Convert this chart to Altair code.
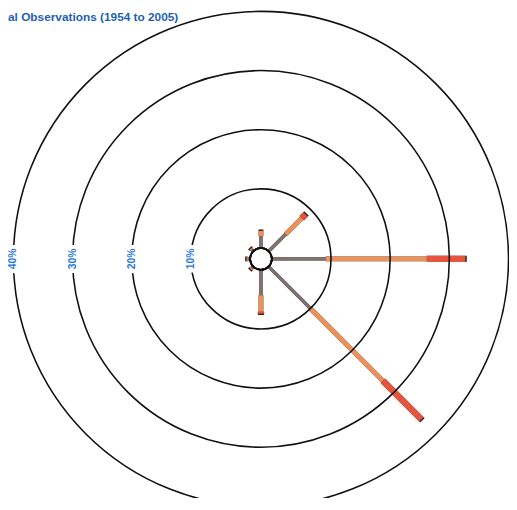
import altair as alt
import pandas as pd

# ---- data ----
directions = ["N", "NE", "E", "SE", "S", "SW", "W", "NW"]
bearings = [0, 45, 90, 135, 180, 225, 270, 315]
light = [2.0, 4.1, 9.1, 10.0, 4.3, 0.4, 0.4, 0.4]       # thin segment (%)
moderate = [0.9, 3.8, 17.1, 17.3, 2.8, 0.2, 0.2, 0.2]   # orange segment (%)
strong = [0.0, 0.9, 6.5, 9.2, 0.3, 0.0, 0.0, 0.0]       # red segment (%)
classes = ["light", "moderate", "strong"]
ring_pcts = [10, 20, 30, 40]
ring_labels = ["10%", "20%", "30%", "40%"]
calm_pct = [0]
title_text = ["al Observations (1954 to 2005)"]

# ---- layout constants ----
CALM_OFF = 11 / 6.0        # calm circle radius expressed in % units
RMAX = 40 + CALM_OFF
CX, CY = 256.5, 251.0      # centre in svg pixels
RPIX = 251.0
W, H = 508, 490

rows = []
for d, b, a, m, s in zip(directions, bearings, light, moderate, strong):
    cum = 0.0
    for cls, v in zip(classes, [a, m, s]):
        if v > 0:
            rows.append({"dir": d, "bearing": b, "cls": cls, "start": cum, "end": cum + v})
            cum += v
bars = pd.DataFrame(rows)
rings = pd.DataFrame({"pct": ring_pcts, "label": ring_labels})
calm = pd.DataFrame({"pct": calm_pct})
title_df = pd.DataFrame({"t": title_text})

xs = alt.Scale(domain=[-RMAX, RMAX], range=[CX - RPIX, CX + RPIX])
ys = alt.Scale(domain=[-RMAX, RMAX], range=[CY + RPIX, CY - RPIX])
rs = alt.Scale(type="linear", domain=[0, 40], range=[11, 251])

geo = alt.Chart(bars).transform_calculate(
    a="datum.bearing * PI / 180",
).transform_calculate(
    r0=f"datum.start + {CALM_OFF}",
    r1=f"datum.end + {CALM_OFF}",
    r1o=f"datum.end + {CALM_OFF} + 0.25",
).transform_calculate(
    x0="datum.r0 * sin(datum.a)", y0="datum.r0 * cos(datum.a)",
    x1="datum.r1 * sin(datum.a)", y1="datum.r1 * cos(datum.a)",
    x1o="datum.r1o * sin(datum.a)", y1o="datum.r1o * cos(datum.a)",
)

outline = geo.mark_rule(strokeCap="butt", color="#3e2620").encode(
    x=alt.X("x0:Q", scale=xs, axis=None),
    y=alt.Y("y0:Q", scale=ys, axis=None),
    x2="x1o:Q", y2="y1o:Q",
    strokeWidth=alt.StrokeWidth("cls:N", scale=alt.Scale(domain=classes, range=[3.4, 6.4, 8.6]), legend=None),
)
fill = geo.mark_rule(strokeCap="butt").encode(
    x=alt.X("x0:Q", scale=xs, axis=None),
    y=alt.Y("y0:Q", scale=ys, axis=None),
    x2="x1:Q", y2="y1:Q",
    strokeWidth=alt.StrokeWidth("cls:N", scale=alt.Scale(domain=classes, range=[1.4, 4.4, 6.6]), legend=None),
    color=alt.Color("cls:N", scale=alt.Scale(domain=classes, range=["#7f7370", "#e8935e", "#e4553f"]), legend=None),
)

ring_layer = alt.Chart(rings).mark_arc(
    theta=0, theta2=6.2832, fillOpacity=0, stroke="#111111", strokeWidth=1.6
).encode(
    radius=alt.Radius("pct:Q", scale=rs, stack=False),
    x=alt.value(CX), y=alt.value(CY),
)

lab_base = alt.Chart(rings).transform_calculate(
    lx=f"-(datum.pct + {CALM_OFF})", ly="0"
)
lab_halo = lab_base.mark_text(
    angle=270, fontSize=10.5, fontWeight="bold", font="Liberation Sans Narrow, Liberation Sans",
    fill="white", stroke="white", strokeWidth=8, align="center", baseline="middle"
).encode(x=alt.X("lx:Q", scale=xs, axis=None), y=alt.Y("ly:Q", scale=ys, axis=None), text="label:N")
lab_text = lab_base.mark_text(
    angle=270, fontSize=10.5, fontWeight="bold", font="Liberation Sans Narrow, Liberation Sans",
    color="#2a78d4", align="center", baseline="middle"
).encode(x=alt.X("lx:Q", scale=xs, axis=None), y=alt.Y("ly:Q", scale=ys, axis=None), text="label:N")

calm_layer = alt.Chart(calm).mark_arc(
    theta=0, theta2=6.2832, fill="white", stroke="#111111", strokeWidth=1.6
).encode(
    radius=alt.Radius("pct:Q", scale=rs, stack=False),
    x=alt.value(CX), y=alt.value(CY),
)

title_layer = alt.Chart(title_df).mark_text(
    align="left", baseline="alphabetic", fontSize=12, fontWeight="bold",
    font="Liberation Sans Narrow, Liberation Sans", color="#1f5fb0"
).encode(x=alt.value(0), y=alt.value(10), text="t:N")

chart = alt.layer(
    outline, fill, ring_layer, lab_halo, lab_text, calm_layer, title_layer
).properties(
    width=W, height=H, padding=0,
    autosize=alt.AutoSizeParams(type="none"),
).configure_view(stroke=None)

chart.save("out.html", embed_options={"renderer": "svg", "actions": False})
